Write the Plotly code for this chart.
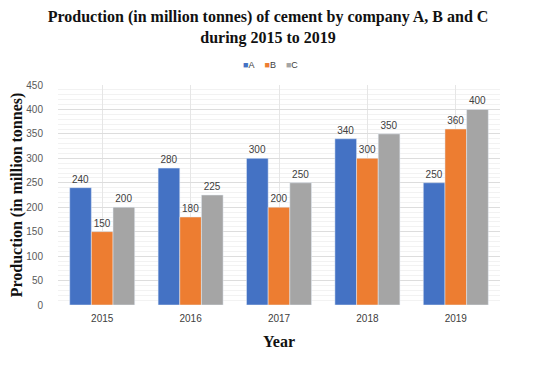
import plotly.graph_objects as go

years = ["2015", "2016", "2017", "2018", "2019"]
series_names = ["A", "B", "C"]
values_a = [240, 280, 300, 340, 250]
values_b = [150, 180, 200, 300, 360]
values_c = [200, 225, 250, 350, 400]
colors = ["#4472C4", "#ED7D31", "#A5A5A5"]

fig = go.Figure()
for name, vals, col in zip(series_names, [values_a, values_b, values_c], colors):
    fig.add_trace(go.Bar(
        x=years, y=vals, name=name, marker_color=col,
        text=[str(v) for v in vals], textposition="outside",
        textfont=dict(family="Liberation Sans, Arial", size=10, color="#404040"),
        cliponaxis=False, showlegend=False,
    ))

legend_text = "&nbsp;&nbsp;&nbsp;&nbsp;".join(
    f"<span style='color:{c}'>■</span>{n}" for n, c in zip(series_names, colors)
)
fig.add_annotation(
    text=legend_text, xref="paper", yref="paper", x=0.48, y=1.091,
    xanchor="center", yanchor="middle", showarrow=False,
    font=dict(family="Liberation Sans, Arial", size=9, color="#404040"),
)

fig.update_layout(
    width=534, height=365,
    paper_bgcolor="white", plot_bgcolor="white",
    margin=dict(l=50, r=42, t=77, b=68, autoexpand=False),
    barmode="group", bargap=0.265, bargroupgap=0,
    title=dict(
        text="<b>Production (in million tonnes) of cement by company A, B and C<br>during 2015 to 2019</b>",
        x=0.487, xanchor="center", y=0.962, yanchor="top",
        font=dict(family="Liberation Serif, Times New Roman", size=16, color="#111111"),
    ),
    xaxis=dict(
        showgrid=True, gridcolor="#E6E6E6", showline=False, ticks="",
        ticklabelstandoff=6,
        tickfont=dict(family="Liberation Sans, Arial", size=10, color="#404040"),
        title=dict(text="<b>Year</b>", font=dict(family="Liberation Serif, Times New Roman", size=16, color="#111111"), standoff=12),
    ),
    yaxis=dict(
        range=[0, 450], dtick=50, showgrid=True, gridcolor="#DDDDDD",
        minor=dict(dtick=10, showgrid=True, gridcolor="#F2F2F2"),
        zeroline=False, showline=False, ticks="",
        ticklabelstandoff=14,
        tickfont=dict(family="Liberation Sans, Arial", size=10, color="#595959"),
        title=dict(text="<b>Production (in million tonnes)</b>", font=dict(family="Liberation Serif, Times New Roman", size=16, color="#111111"), standoff=8),
    ),
)
fig.write_html("out.html")
